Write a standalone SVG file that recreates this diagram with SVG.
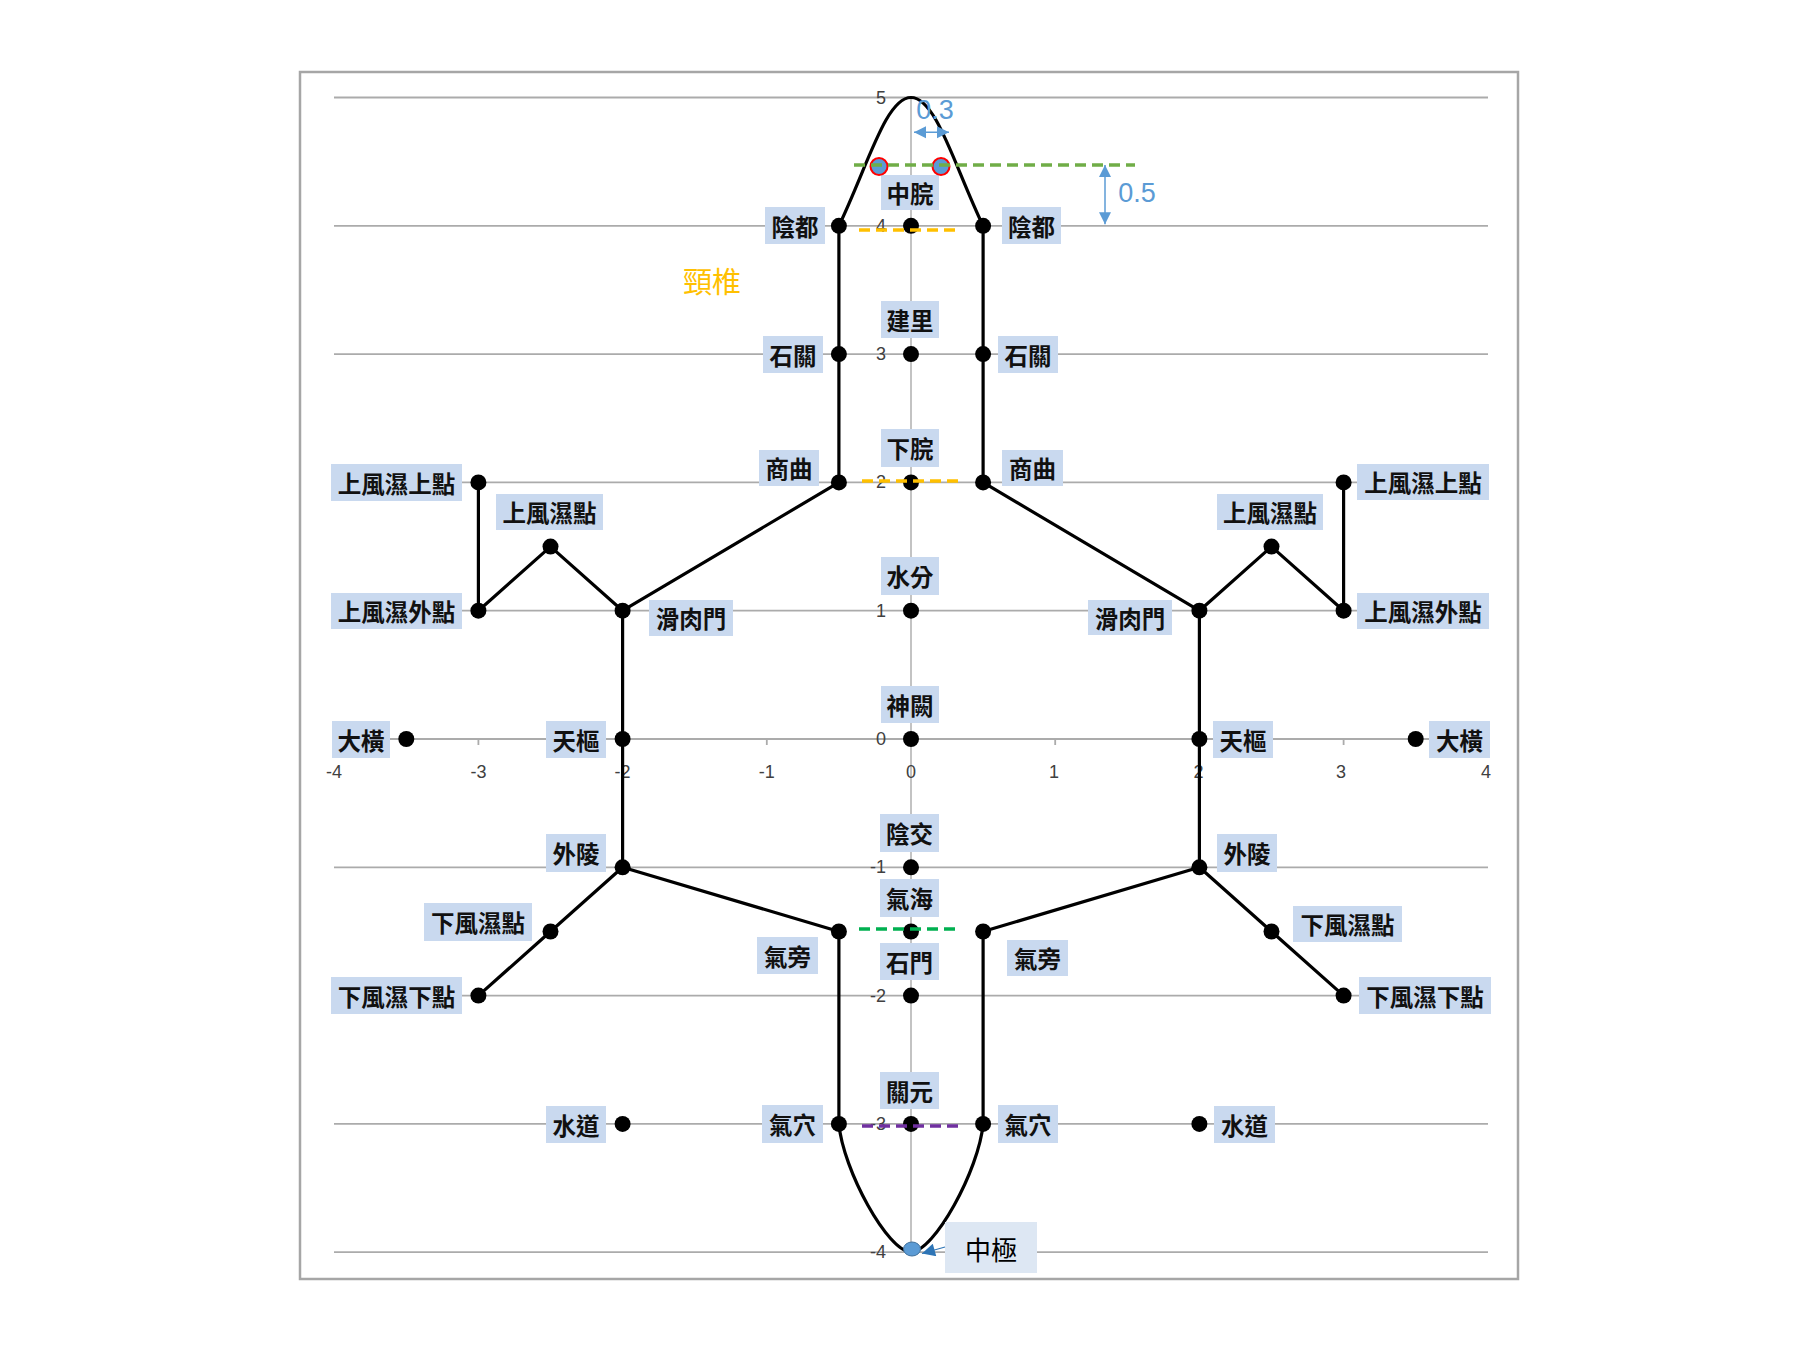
<svg xmlns="http://www.w3.org/2000/svg" width="1800" height="1350" viewBox="0 0 1800 1350">
<defs>
<style>
.grid{stroke:#ababab;stroke-width:1.8;fill:none}
.axis{stroke:#bdbdbd;stroke-width:1.8;fill:none}
.tick{fill:#404040;font-family:"Liberation Sans",Arial,sans-serif;font-size:18px}
.conn{stroke:#000;stroke-width:3.2;fill:none;stroke-linejoin:round}
.dot{fill:#000}
.box{fill:#c9d9ef}
.lbl{font-family:"Noto Sans CJK TC","Noto Sans CJK SC",sans-serif;font-weight:bold;font-size:23.5px;fill:#111;text-anchor:middle;dominant-baseline:central}
.dash{stroke-width:3.5;stroke-dasharray:11 6;fill:none}
.note{font-family:"Liberation Sans",Arial,sans-serif;font-size:27px;fill:#5b9bd5;text-anchor:middle;dominant-baseline:central}
</style>
<marker id="ah" viewBox="0 0 10 10" refX="10" refY="5" markerWidth="12" markerHeight="13" markerUnits="userSpaceOnUse" orient="auto-start-reverse"><path d="M0,0 L10,5 L0,10 z" fill="#5b9bd5"/></marker>
<marker id="ah2" viewBox="0 0 10 10" refX="10" refY="5" markerWidth="17" markerHeight="13" markerUnits="userSpaceOnUse" orient="auto"><path d="M0,0 L10,5 L0,10 z" fill="#2e75b6"/></marker>
</defs>
<rect width="1800" height="1350" fill="#fff"/>
<rect x="300" y="72" width="1218" height="1207" fill="none" stroke="#a6a6a6" stroke-width="2.5"/>

<g id="grid">
<line class="grid" x1="334" y1="97.5" x2="1488" y2="97.5"/>
<line class="grid" x1="334" y1="225.8" x2="1488" y2="225.8"/>
<line class="grid" x1="334" y1="354.1" x2="1488" y2="354.1"/>
<line class="grid" x1="334" y1="482.4" x2="1488" y2="482.4"/>
<line class="grid" x1="334" y1="610.7" x2="1488" y2="610.7"/>
<line class="grid" x1="334" y1="739" x2="1488" y2="739"/>
<line class="grid" x1="334" y1="867.3" x2="1488" y2="867.3"/>
<line class="grid" x1="334" y1="995.6" x2="1488" y2="995.6"/>
<line class="grid" x1="334" y1="1123.9" x2="1488" y2="1123.9"/>
<line class="grid" x1="334" y1="1252.2" x2="1488" y2="1252.2"/>
<line class="axis" x1="911" y1="97.5" x2="911" y2="1252.2"/>
<path class="grid" d="M334.2,739v6M478.4,739v6M622.6,739v6M766.8,739v6M911,739v6M1055.2,739v6M1199.4,739v6M1343.6,739v6M1487.8,739v6"/>
</g>
<g id="ticks">
<text class="tick" x="334" y="778" text-anchor="middle">-4</text>
<text class="tick" x="478.4" y="778" text-anchor="middle">-3</text>
<text class="tick" x="622.6" y="778" text-anchor="middle">-2</text>
<text class="tick" x="766.8" y="778" text-anchor="middle">-1</text>
<text class="tick" x="911" y="778" text-anchor="middle">0</text>
<text class="tick" x="1054" y="778" text-anchor="middle">1</text>
<text class="tick" x="1198.5" y="778" text-anchor="middle">2</text>
<text class="tick" x="1341" y="778" text-anchor="middle">3</text>
<text class="tick" x="1486" y="778" text-anchor="middle">4</text>
<text class="tick" x="886" y="103.5" text-anchor="end">5</text>
<text class="tick" x="886" y="231.8" text-anchor="end">4</text>
<text class="tick" x="886" y="360.1" text-anchor="end">3</text>
<text class="tick" x="886" y="488.4" text-anchor="end">2</text>
<text class="tick" x="886" y="616.7" text-anchor="end">1</text>
<text class="tick" x="886" y="745" text-anchor="end">0</text>
<text class="tick" x="886" y="873.3" text-anchor="end">-1</text>
<text class="tick" x="886" y="1001.6" text-anchor="end">-2</text>
<text class="tick" x="886" y="1129.9" text-anchor="end">-3</text>
<text class="tick" x="886" y="1258.2" text-anchor="end">-4</text>
</g>

<g id="connectors">
<path class="conn" d="M838.9,225.8 C868,165 886,97.5 911,97.5 C936,97.5 954,165 983.1,225.8"/>
<path class="conn" d="M838.9,1123.9 C843,1170 888,1252 911,1252 C934,1252 979,1170 983.1,1123.9"/>
<polyline class="conn" points="478.4,482.4 478.4,610.7 550.5,546.6 622.6,610.7 838.9,482.4 838.9,354.1 838.9,225.8"/>
<polyline class="conn" points="622.6,610.7 622.6,739 622.6,867.3 550.5,931.5 478.4,995.6"/>
<polyline class="conn" points="622.6,867.3 838.9,931.5 838.9,1123.9"/>
<polyline class="conn" points="1343.6,482.4 1343.6,610.7 1271.5,546.6 1199.4,610.7 983.1,482.4 983.1,354.1 983.1,225.8"/>
<polyline class="conn" points="1199.4,610.7 1199.4,739 1199.4,867.3 1271.5,931.5 1343.6,995.6"/>
<polyline class="conn" points="1199.4,867.3 983.1,931.5 983.1,1123.9"/>
</g>

<g id="n-yindu-l"><circle class="dot" cx="838.9" cy="225.8" r="8"/><rect class="box" x="765" y="207" width="60" height="37"/><text class="lbl" x="795" y="225.5">陰都</text></g>
<g id="n-shiguan-l"><circle class="dot" cx="838.9" cy="354.1" r="8"/><rect class="box" x="763" y="336" width="60" height="37"/><text class="lbl" x="793" y="354.5">石關</text></g>
<g id="n-shangqu-l"><circle class="dot" cx="838.9" cy="482.4" r="8"/><rect class="box" x="759" y="450" width="60" height="36"/><text class="lbl" x="789" y="468">商曲</text></g>
<g id="n-sfs-top-l"><circle class="dot" cx="478.4" cy="482.4" r="8"/><rect class="box" x="331" y="464" width="131" height="37"/><text class="lbl" x="396.5" y="482.5">上風濕上點</text></g>
<g id="n-sfs-l"><circle class="dot" cx="550.5" cy="546.6" r="8"/><rect class="box" x="496" y="494" width="107" height="36"/><text class="lbl" x="549.5" y="512">上風濕點</text></g>
<g id="n-sfs-out-l"><circle class="dot" cx="478.4" cy="610.7" r="8"/><rect class="box" x="331" y="593" width="131" height="36"/><text class="lbl" x="396.5" y="611">上風濕外點</text></g>
<g id="n-huaroumen-l"><circle class="dot" cx="622.6" cy="610.7" r="8"/><rect class="box" x="649" y="600" width="84" height="36"/><text class="lbl" x="691" y="618">滑肉門</text></g>
<g id="n-daheng-l"><circle class="dot" cx="406.3" cy="739" r="8"/><rect class="box" x="332" y="721" width="58" height="37"/><text class="lbl" x="361" y="739.5">大橫</text></g>
<g id="n-tianshu-l"><circle class="dot" cx="622.6" cy="739" r="8"/><rect class="box" x="546" y="721" width="60" height="37"/><text class="lbl" x="576" y="739.5">天樞</text></g>
<g id="n-wailing-l"><circle class="dot" cx="622.6" cy="867.3" r="8"/><rect class="box" x="546" y="834" width="60" height="38"/><text class="lbl" x="576" y="853">外陵</text></g>
<g id="n-xfs-l"><circle class="dot" cx="550.5" cy="931.5" r="8"/><rect class="box" x="424" y="903" width="108" height="38"/><text class="lbl" x="478" y="922">下風濕點</text></g>
<g id="n-xfs-bot-l"><circle class="dot" cx="478.4" cy="995.6" r="8"/><rect class="box" x="331" y="977" width="131" height="37"/><text class="lbl" x="396.5" y="995.5">下風濕下點</text></g>
<g id="n-qipang-l"><circle class="dot" cx="838.9" cy="931.5" r="8"/><rect class="box" x="757" y="937" width="61" height="37"/><text class="lbl" x="787.5" y="955.5">氣旁</text></g>
<g id="n-shuidao-l"><circle class="dot" cx="622.6" cy="1123.9" r="8"/><rect class="box" x="546" y="1106" width="60" height="37"/><text class="lbl" x="576" y="1124.5">水道</text></g>
<g id="n-qixue-l"><circle class="dot" cx="838.9" cy="1123.9" r="8"/><rect class="box" x="762" y="1105" width="61" height="38"/><text class="lbl" x="792.5" y="1124">氣穴</text></g>

<g id="n-yindu-r"><circle class="dot" cx="983.1" cy="225.8" r="8"/><rect class="box" x="1002" y="207" width="59" height="37"/><text class="lbl" x="1031.5" y="225.5">陰都</text></g>
<g id="n-shiguan-r"><circle class="dot" cx="983.1" cy="354.1" r="8"/><rect class="box" x="998" y="336" width="60" height="37"/><text class="lbl" x="1028" y="354.5">石關</text></g>
<g id="n-shangqu-r"><circle class="dot" cx="983.1" cy="482.4" r="8"/><rect class="box" x="1002" y="450" width="61" height="36"/><text class="lbl" x="1032.5" y="468">商曲</text></g>
<g id="n-sfs-top-r"><circle class="dot" cx="1343.6" cy="482.4" r="8"/><rect class="box" x="1357" y="464" width="132" height="36"/><text class="lbl" x="1423" y="482">上風濕上點</text></g>
<g id="n-sfs-r"><circle class="dot" cx="1271.5" cy="546.6" r="8"/><rect class="box" x="1217" y="494" width="106" height="36"/><text class="lbl" x="1270" y="512">上風濕點</text></g>
<g id="n-sfs-out-r"><circle class="dot" cx="1343.6" cy="610.7" r="8"/><rect class="box" x="1357" y="593" width="132" height="36"/><text class="lbl" x="1423" y="611">上風濕外點</text></g>
<g id="n-huaroumen-r"><circle class="dot" cx="1199.4" cy="610.7" r="8"/><rect class="box" x="1088" y="600" width="84" height="35"/><text class="lbl" x="1130" y="617.5">滑肉門</text></g>
<g id="n-tianshu-r"><circle class="dot" cx="1199.4" cy="739" r="8"/><rect class="box" x="1213" y="721" width="60" height="37"/><text class="lbl" x="1243" y="739.5">天樞</text></g>
<g id="n-daheng-r"><circle class="dot" cx="1415.7" cy="739" r="8"/><rect class="box" x="1429" y="721" width="61" height="37"/><text class="lbl" x="1459.5" y="739.5">大橫</text></g>
<g id="n-wailing-r"><circle class="dot" cx="1199.4" cy="867.3" r="8"/><rect class="box" x="1217" y="834" width="60" height="38"/><text class="lbl" x="1247" y="853">外陵</text></g>
<g id="n-xfs-r"><circle class="dot" cx="1271.5" cy="931.5" r="8"/><rect class="box" x="1293" y="906" width="109" height="36"/><text class="lbl" x="1347.5" y="924">下風濕點</text></g>
<g id="n-xfs-bot-r"><circle class="dot" cx="1343.6" cy="995.6" r="8"/><rect class="box" x="1359" y="977" width="132" height="37"/><text class="lbl" x="1425" y="995.5">下風濕下點</text></g>
<g id="n-qipang-r"><circle class="dot" cx="983.1" cy="931.5" r="8"/><rect class="box" x="1007" y="940" width="61" height="36"/><text class="lbl" x="1037.5" y="958">氣旁</text></g>
<g id="n-qixue-r"><circle class="dot" cx="983.1" cy="1123.9" r="8"/><rect class="box" x="998" y="1105" width="60" height="38"/><text class="lbl" x="1028" y="1124">氣穴</text></g>
<g id="n-shuidao-r"><circle class="dot" cx="1199.4" cy="1123.9" r="8"/><rect class="box" x="1214" y="1106" width="61" height="37"/><text class="lbl" x="1244.5" y="1124.5">水道</text></g>

<g id="n-zhongwan"><circle class="dot" cx="911" cy="225.8" r="8"/><rect class="box" x="881" y="175" width="58" height="35"/><text class="lbl" x="910" y="192.5">中脘</text></g>
<g id="n-jianli"><circle class="dot" cx="911" cy="354.1" r="8"/><rect class="box" x="881" y="301" width="58" height="37"/><text class="lbl" x="910" y="319.5">建里</text></g>
<g id="n-xiawan"><circle class="dot" cx="911" cy="482.4" r="8"/><rect class="box" x="881" y="429" width="58" height="38"/><text class="lbl" x="910" y="448">下脘</text></g>
<g id="n-shuifen"><circle class="dot" cx="911" cy="610.7" r="8"/><rect class="box" x="881" y="557" width="58" height="38"/><text class="lbl" x="910" y="576">水分</text></g>
<g id="n-shenque"><circle class="dot" cx="911" cy="739" r="8"/><rect class="box" x="881" y="686" width="58" height="37"/><text class="lbl" x="910" y="704.5">神闕</text></g>
<g id="n-yinjiao"><circle class="dot" cx="911" cy="867.3" r="8"/><rect class="box" x="880" y="814" width="59" height="38"/><text class="lbl" x="909.5" y="833">陰交</text></g>
<g id="n-qihai"><circle class="dot" cx="911" cy="931.5" r="8"/><rect class="box" x="880" y="879" width="59" height="38"/><text class="lbl" x="909.5" y="898">氣海</text></g>
<g id="n-shimen"><circle class="dot" cx="911" cy="995.6" r="8"/><rect class="box" x="880" y="943" width="59" height="37"/><text class="lbl" x="909.5" y="961.5">石門</text></g>
<g id="n-guanyuan"><circle class="dot" cx="911" cy="1123.9" r="8"/><rect class="box" x="880" y="1072" width="59" height="37"/><text class="lbl" x="909.5" y="1090.5">關元</text></g>
<g id="n-zhongji"><ellipse cx="912" cy="1249" rx="8.5" ry="7" fill="#5b9bd5" stroke="#41719c" stroke-width="1"/><rect x="945" y="1222" width="92" height="51" fill="#dde7f3"/><text x="991" y="1248" font-family="'Noto Sans CJK TC','Noto Sans CJK SC',sans-serif" font-size="26" fill="#000" text-anchor="middle" dominant-baseline="central">中極</text></g>

<g id="annotations">
<line class="dash" x1="859" y1="230" x2="958" y2="230" stroke="#ffc000"/>
<line class="dash" x1="862" y1="481" x2="960" y2="481" stroke="#ffc000"/>
<line class="dash" x1="859" y1="929" x2="958" y2="929" stroke="#00b050"/>
<line class="dash" x1="862" y1="1126" x2="960" y2="1126" stroke="#7030a0"/>
<circle cx="879" cy="166.5" r="8.5" fill="#5b9bd5" stroke="#ff0000" stroke-width="2"/>
<circle cx="941" cy="166.5" r="8.5" fill="#5b9bd5" stroke="#ff0000" stroke-width="2"/>
<line class="dash" x1="854" y1="165" x2="1135" y2="165" stroke="#70ad47"/>
<text class="note" x="935" y="110">0.3</text>
<line x1="914" y1="132.3" x2="949" y2="132.3" stroke="#5b9bd5" stroke-width="1.5" marker-start="url(#ah)" marker-end="url(#ah)"/>
<line x1="1105" y1="165" x2="1105" y2="224.3" stroke="#5b9bd5" stroke-width="1.5" marker-start="url(#ah)" marker-end="url(#ah)"/>
<text class="note" x="1137" y="193">0.5</text>
<text x="712" y="280" font-family="'Noto Sans CJK TC','Noto Sans CJK SC',sans-serif" font-size="29" fill="#ffc000" text-anchor="middle" dominant-baseline="central">頸椎</text>
<line x1="945" y1="1247" x2="922" y2="1253.5" stroke="#2e75b6" stroke-width="1.2" marker-end="url(#ah2)"/>
</g>
</svg>
